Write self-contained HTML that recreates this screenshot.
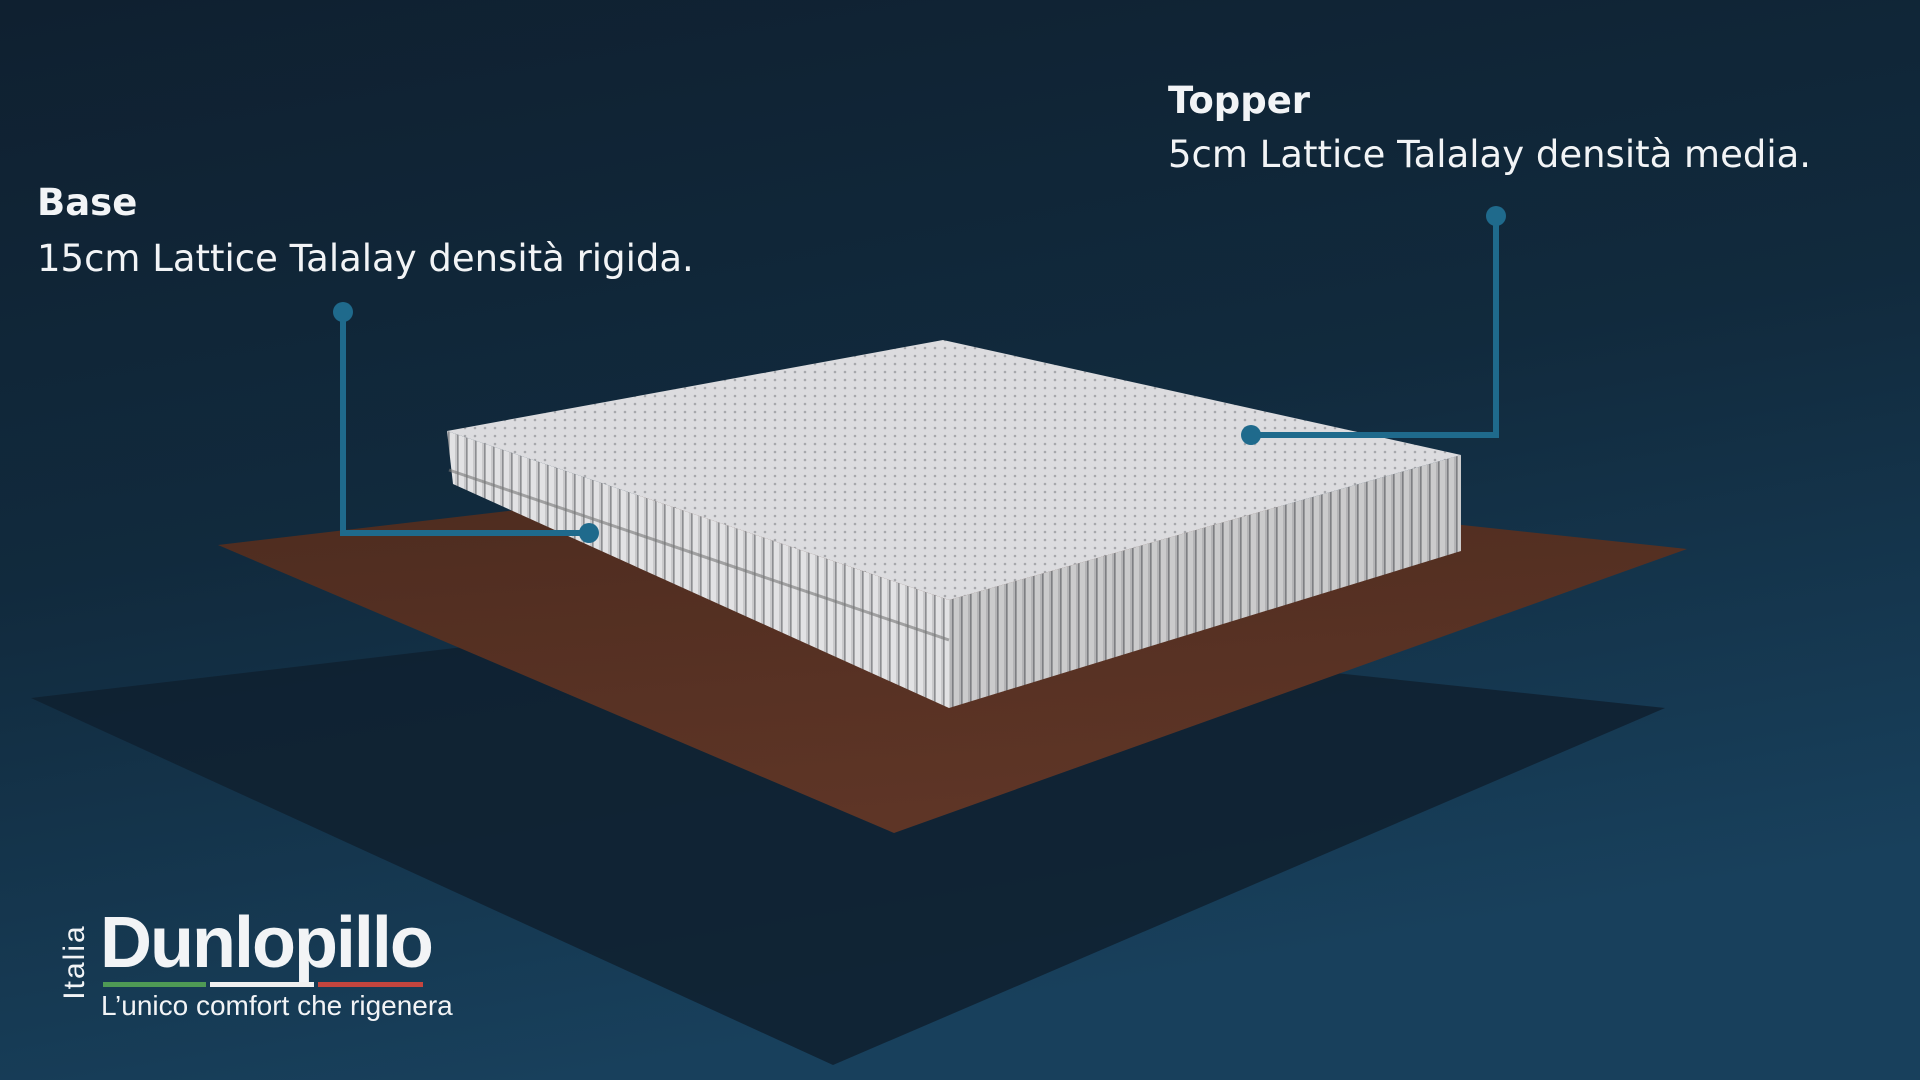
<!DOCTYPE html>
<html><head><meta charset="utf-8"><style>
html,body{margin:0;padding:0;width:1920px;height:1080px;overflow:hidden;background:#102333;}
.t{position:absolute;color:#f2f4f6;font-family:"DejaVu Sans","Liberation Sans",sans-serif;white-space:nowrap;}
</style></head><body>
<svg width="1920" height="1080" style="position:absolute;left:0;top:0">
<defs>
<linearGradient id="bg" x1="0" y1="0" x2="0.3" y2="1">
<stop offset="0" stop-color="#0f2030"/><stop offset="0.5" stop-color="#112a3d"/><stop offset="1" stop-color="#18405c"/>
</linearGradient>
<linearGradient id="wood" x1="0" y1="0" x2="0.3" y2="1">
<stop offset="0" stop-color="#4c2b1f"/><stop offset="1" stop-color="#5e3526"/>
</linearGradient>
<pattern id="vs" width="9" height="20" patternUnits="userSpaceOnUse">
<rect width="9" height="20" fill="#c9c9cb"/><rect x="0" width="5" height="20" fill="#e2e2e4"/><rect x="7" width="1.5" height="20" fill="#8d8e92"/>
</pattern>
<pattern id="grid" width="10" height="8" patternUnits="userSpaceOnUse">
<rect width="10" height="8" fill="#dcdcdf"/><circle cx="5" cy="4" r="1.3" fill="#a7a8ac"/>
</pattern>
</defs>
<rect width="1920" height="1080" fill="url(#bg)"/>
<polygon points="31,698 760,612 1665,708 833,1065" fill="#0f2131" opacity="0.9"/>
<polygon points="218,545 900,465 1687,549 894,833" fill="url(#wood)"/>
<polygon points="447,431 949,600 949,708 453,484" fill="url(#vs)"/>
<polygon points="949,600 1461,455 1461,551 949,708" fill="url(#vs)"/>
<polygon points="949,600 1461,455 1461,551 949,708" fill="#000" opacity="0.1"/>
<line x1="449" y1="470" x2="949" y2="640" stroke="#777" stroke-width="3" opacity="0.6"/>
<polygon points="447,431 943,340 1461,455 949,600" fill="url(#grid)"/>
<g stroke="#1f6a8c" stroke-width="6" fill="none">
<polyline points="343,312 343,533 589,533"/>
<polyline points="1496,216 1496,435 1251,435"/>
</g>
<g fill="#1f6a8c">
<circle cx="343" cy="312" r="10"/><circle cx="589" cy="533" r="10"/>
<circle cx="1496" cy="216" r="10"/><circle cx="1251" cy="435" r="10"/>
</g>
<rect x="103" y="982" width="103" height="5" fill="#4f9a55"/>
<rect x="210" y="982" width="104" height="5" fill="#f0f0f0"/>
<rect x="318" y="982" width="105" height="5" fill="#c4453e"/>
</svg>
<div class="t" style="left:37px;top:181px;font-size:37px;font-weight:bold;">Base</div>
<div class="t" style="left:37px;top:237px;font-size:37px;">15cm Lattice Talalay densità rigida.</div>
<div class="t" style="left:1168px;top:79px;font-size:37px;font-weight:bold;">Topper</div>
<div class="t" style="left:1168px;top:133px;font-size:37px;">5cm Lattice Talalay densità media.</div>
<div class="t" style="left:30px;top:945px;font-size:30px;transform:rotate(-90deg);transform-origin:center;width:90px;text-align:center;font-family:'Liberation Sans',sans-serif;letter-spacing:2px;">Italia</div>
<div class="t" style="left:100px;top:902px;font-size:72px;font-weight:bold;font-family:'Liberation Sans',sans-serif;letter-spacing:-2px;">Dunlopillo</div>
<div class="t" style="left:101px;top:990px;font-size:28px;font-family:'Liberation Sans',sans-serif;">L’unico comfort che rigenera</div>
</body></html>
